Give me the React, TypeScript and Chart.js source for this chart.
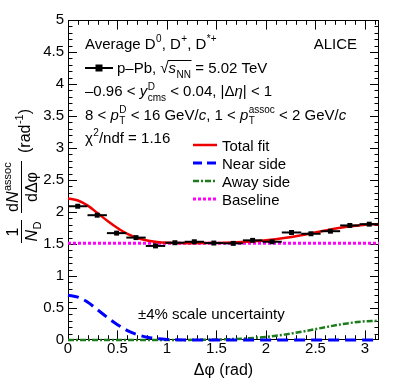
import React, { useEffect, useRef } from "react";
import { Chart, registerables } from "chart.js";

Chart.register(...registerables);

const FONT = '"Liberation Sans", Arial, Helvetica, sans-serif';

// ---- data ----
const binCenters = [0.098, 0.295, 0.491, 0.687, 0.884, 1.08, 1.276, 1.473, 1.669, 1.865, 2.062, 2.258, 2.454, 2.651, 2.847, 3.043];
const correlation = [2.09, 1.95, 1.67, 1.6, 1.47, 1.52, 1.535, 1.515, 1.51, 1.557, 1.535, 1.68, 1.66, 1.7, 1.79, 1.81];
const binHalfWidth = 0.098;

const fitX = [0, 0.1, 0.2, 0.3, 0.4, 0.5, 0.6, 0.7, 0.8, 0.9, 1.0, 1.2, 1.4, 1.6, 1.8, 2.0, 2.2, 2.4, 2.6, 2.8, 3.0, 3.1416];
const totalFit = [2.21, 2.18, 2.1, 1.98, 1.86, 1.75, 1.657, 1.594, 1.554, 1.531, 1.52, 1.513, 1.515, 1.521, 1.535, 1.559, 1.598, 1.65, 1.71, 1.765, 1.802, 1.81];
const nearSide = [0.7, 0.67, 0.59, 0.47, 0.35, 0.24, 0.147, 0.084, 0.044, 0.021, 0.009, 0.001, 0, 0, 0, 0, 0, 0, 0, 0, 0, 0];
const awaySide = [0, 0, 0, 0, 0, 0, 0, 0, 0, 0, 0.0005, 0.0016, 0.0045, 0.011, 0.025, 0.049, 0.088, 0.14, 0.2, 0.255, 0.292, 0.3];
const baselineX = [0, 3.1416];
const baselineY = [1.51, 1.51];

const xTickValues = [0, 0.5, 1, 1.5, 2, 2.5, 3];
const yTickValues = [0, 0.5, 1, 1.5, 2, 2.5, 3, 3.5, 4, 4.5, 5];

const RED = "#ee0000";
const BLUE = "#0000ff";
const GREEN = "#1c7c1c";
const MAGENTA = "#ff00ff";

type Seg = { t?: string; sup?: string; sub?: string; it?: boolean; olStart?: boolean; olEnd?: boolean };

function drawRich(ctx: CanvasRenderingContext2D, x: number, y: number, segs: Seg[], size = 15) {
  const small = Math.round(size * 0.68);
  let cx = x;
  let olX = x;
  for (const s of segs) {
    if (s.t) {
      ctx.font = `${s.it ? "italic " : ""}${size}px ${FONT}`;
      ctx.fillText(s.t, cx, y);
      cx += ctx.measureText(s.t).width;
    }
    if (s.sup || s.sub) {
      ctx.font = `${small}px ${FONT}`;
      let w = 0;
      if (s.sup) {
        ctx.fillText(s.sup, cx + 0.5, y - size * 0.42);
        w = Math.max(w, ctx.measureText(s.sup).width + 0.5);
      }
      if (s.sub) {
        ctx.fillText(s.sub, cx + 0.5, y + size * 0.3);
        w = Math.max(w, ctx.measureText(s.sub).width + 0.5);
      }
      cx += w;
    }
    if (s.olStart) olX = cx;
    if (s.olEnd) {
      ctx.save();
      ctx.lineWidth = 1;
      ctx.strokeStyle = "#000";
      ctx.beginPath();
      const oy = Math.round(y - size * 0.86) + 0.5;
      ctx.moveTo(olX - 1, oy);
      ctx.lineTo(cx + 0.5, oy);
      ctx.stroke();
      ctx.restore();
    }
  }
  return cx;
}

function sampleLine(ctx: CanvasRenderingContext2D, x1: number, x2: number, y: number, color: string, width: number, dash: number[]) {
  ctx.save();
  ctx.strokeStyle = color;
  ctx.lineWidth = width;
  ctx.setLineDash(dash);
  ctx.beginPath();
  ctx.moveTo(x1, y);
  ctx.lineTo(x2, y);
  ctx.stroke();
  ctx.restore();
}

function drawYTitle(ctx: CanvasRenderingContext2D) {
  ctx.save();
  ctx.translate(21.5, 243);
  ctx.rotate(-Math.PI / 2);
  ctx.fillStyle = "#000";
  ctx.strokeStyle = "#000";
  ctx.lineWidth = 1;
  ctx.textBaseline = "alphabetic";
  // 1 / N_D
  ctx.font = `16px ${FONT}`;
  ctx.textAlign = "center";
  ctx.fillText("1", 11, -4);
  ctx.beginPath();
  ctx.moveTo(0, 0);
  ctx.lineTo(23, 0);
  ctx.stroke();
  ctx.textAlign = "left";
  drawRich(ctx, 1.5, 15, [{ t: "N", it: true }, { sub: "D" }], 16);
  // dN^assoc / dΔφ
  ctx.beginPath();
  ctx.moveTo(30, 0);
  ctx.lineTo(82, 0);
  ctx.stroke();
  drawRich(ctx, 31, -4, [{ t: "d" }, { t: "N", it: true }, { sup: "assoc" }], 16);
  ctx.font = `16px ${FONT}`;
  const w = ctx.measureText("dΔφ").width;
  ctx.fillText("dΔφ", 56 - w / 2, 15);
  // (rad^-1)
  drawRich(ctx, 90, 8, [{ t: "(rad" }, { sup: "-1" }, { t: ")" }], 16);
  ctx.restore();
}

const frameTicks = {
  id: "frameTicks",
  beforeDatasetsDraw(chart: any) {
    const { ctx, chartArea: a, scales } = chart;
    const xs = scales.x;
    const ys = scales.y;
    const L = Math.round(a.left), R = Math.round(a.right), T = Math.round(a.top), B = Math.round(a.bottom);
    ctx.save();
    ctx.strokeStyle = "#000";
    ctx.lineWidth = 1;
    ctx.strokeRect(L + 0.5, T + 0.5, R - L - 1, B - T - 1);
    ctx.beginPath();
    for (let i = 1; i < 50; i++) {
      const py = Math.round(ys.getPixelForValue(i / 10)) + 0.5;
      const len = i % 5 === 0 ? 9 : 4.5;
      ctx.moveTo(L, py);
      ctx.lineTo(L + len, py);
      ctx.moveTo(R, py);
      ctx.lineTo(R - len, py);
    }
    for (let i = 1; i <= 31; i++) {
      const px = Math.round(xs.getPixelForValue(i / 10)) + 0.5;
      const len = i % 5 === 0 ? 9.6 : 4.8;
      ctx.moveTo(px, B);
      ctx.lineTo(px, B - len);
      ctx.moveTo(px, T);
      ctx.lineTo(px, T + len);
    }
    ctx.stroke();
    ctx.restore();
  },
};

const errorBars = {
  id: "errorBars",
  beforeDatasetDraw(chart: any, args: any) {
    if (args.index !== 0) return;
    const { ctx, scales } = chart;
    ctx.save();
    ctx.strokeStyle = "#000";
    ctx.lineWidth = 2;
    binCenters.forEach((c, i) => {
      const py = scales.y.getPixelForValue(correlation[i]);
      ctx.beginPath();
      ctx.moveTo(scales.x.getPixelForValue(c - binHalfWidth), py);
      ctx.lineTo(scales.x.getPixelForValue(c + binHalfWidth), py);
      ctx.stroke();
    });
    ctx.restore();
  },
};

const annotations = {
  id: "annotations",
  afterDraw(chart: any) {
    const ctx: CanvasRenderingContext2D = chart.ctx;
    ctx.save();
    ctx.fillStyle = "#000";
    ctx.textBaseline = "alphabetic";
    ctx.textAlign = "left";
    drawRich(ctx, 85, 48.5, [{ t: "Average D" }, { sup: "0" }, { t: ", D" }, { sup: "+" }, { t: ", D" }, { sup: "*+" }]);
    ctx.font = `15px ${FONT}`;
    ctx.textAlign = "right";
    ctx.fillText("ALICE", 357, 48.5);
    ctx.textAlign = "left";

    // data marker sample
    sampleLine(ctx, 85, 113, 68, "#000", 2, []);
    ctx.fillRect(95.5, 64.5, 7, 7);
    drawRich(ctx, 117, 73, [{ t: "p–Pb, " }, { t: "√", olStart: true }, { t: "s", it: true }, { sub: "NN", olEnd: true }, { t: " = 5.02 TeV" }]);
    drawRich(ctx, 85, 96, [{ t: "–0.96 < " }, { t: "y", it: true }, { sup: "D", sub: "cms" }, { t: " < 0.04, |Δ" }, { t: "η", it: true }, { t: "| < 1" }]);
    drawRich(ctx, 85, 119.5, [
      { t: "8 < " }, { t: "p", it: true }, { sup: "D", sub: "T" }, { t: " < 16 GeV/" }, { t: "c", it: true },
      { t: ", 1 < " }, { t: "p", it: true }, { sup: "assoc", sub: "T" }, { t: " < 2 GeV/" }, { t: "c", it: true },
    ]);
    drawRich(ctx, 85, 142.5, [{ t: "χ" }, { sup: "2" }, { t: "/ndf = 1.16" }]);

    // legend of curves
    const lx1 = 193, lx2 = 217, tx = 222;
    sampleLine(ctx, lx1, lx2, 145, RED, 2.5, []);
    sampleLine(ctx, lx1, lx2, 163, BLUE, 3, [9, 5]);
    sampleLine(ctx, lx1, lx2, 181, GREEN, 2.5, [6, 2, 2, 2]);
    sampleLine(ctx, lx1, lx2, 199, MAGENTA, 3, [3, 2]);
    ctx.font = `15px ${FONT}`;
    ctx.fillText("Total fit", tx, 150.5);
    ctx.fillText("Near side", tx, 168.5);
    ctx.fillText("Away side", tx, 186.5);
    ctx.fillText("Baseline", tx, 204.5);

    ctx.fillText("±4% scale uncertainty", 138, 318.5);

    // x title
    ctx.font = `16px ${FONT}`;
    ctx.textAlign = "center";
    ctx.fillText("Δφ (rad)", 223.5, 374.5);
    ctx.textAlign = "left";

    drawYTitle(ctx);
    ctx.restore();
  },
};

export default function App() {
  const ref = useRef<HTMLCanvasElement | null>(null);

  useEffect(() => {
    if (!ref.current) return;
    Chart.defaults.font.family = FONT;
    const pts = (xs: number[], ys: number[]) => xs.map((x, i) => ({ x, y: ys[i] }));
    const chart = new Chart(ref.current, {
      type: "scatter",
      data: {
        datasets: [
          {
            label: "data",
            data: pts(binCenters, correlation),
            pointStyle: "rect",
            pointRadius: 3.5,
            pointBackgroundColor: "#000",
            pointBorderWidth: 0,
            showLine: false,
            order: 0,
          } as any,
          {
            type: "line",
            label: "Total fit",
            data: pts(fitX, totalFit),
            borderColor: RED,
            borderWidth: 2.5,
            pointRadius: 0,
            cubicInterpolationMode: "monotone",
            fill: false,
            clip: false,
            order: 1,
          } as any,
          {
            type: "line",
            label: "Near side",
            data: pts(fitX, nearSide),
            borderColor: BLUE,
            borderWidth: 3,
            borderDash: [11, 6],
            pointRadius: 0,
            cubicInterpolationMode: "monotone",
            fill: false,
            clip: false,
            order: 2,
          } as any,
          {
            type: "line",
            label: "Away side",
            data: pts(fitX, awaySide),
            borderColor: GREEN,
            borderWidth: 2.5,
            borderDash: [6, 2, 2, 2],
            pointRadius: 0,
            cubicInterpolationMode: "monotone",
            fill: false,
            clip: false,
            order: 3,
          } as any,
          {
            type: "line",
            label: "Baseline",
            data: pts(baselineX, baselineY),
            borderColor: MAGENTA,
            borderWidth: 3,
            borderDash: [3, 2],
            pointRadius: 0,
            fill: false,
            clip: false,
            order: 4,
          } as any,
        ],
      },
      options: {
        animation: false,
        responsive: false,
        devicePixelRatio: 1,
        events: [],
        layout: { padding: { left: 0, right: 20, top: 20, bottom: 0 } },
        plugins: { legend: { display: false }, tooltip: { enabled: false } },
        scales: {
          x: {
            type: "linear",
            min: 0,
            max: Math.PI,
            grid: { display: false, drawTicks: false },
            border: { display: false },
            ticks: {
              color: "#000",
              font: { size: 15, family: FONT },
              padding: 0,
              autoSkip: false,
              maxRotation: 0,
              callback: (v: any) => String(v),
            },
            afterBuildTicks: (s: any) => {
              s.ticks = xTickValues.map((v) => ({ value: v }));
            },
            afterFit: (s: any) => {
              s.height = 47;
            },
          },
          y: {
            type: "linear",
            min: 0,
            max: 5,
            grid: { display: false, drawTicks: false },
            border: { display: false },
            ticks: {
              color: "#000",
              font: { size: 15, family: FONT },
              padding: 4,
              autoSkip: false,
              callback: (v: any) => String(v),
            },
            afterBuildTicks: (s: any) => {
              s.ticks = yTickValues.map((v) => ({ value: v }));
            },
            afterFit: (s: any) => {
              s.width = 68;
            },
          },
        },
      } as any,
      plugins: [frameTicks, errorBars, annotations],
    });
    return () => chart.destroy();
  }, []);

  return (
    <div style={{ position: "fixed", left: 0, top: 0, width: 399, height: 387, background: "#fff" }}>
      <canvas ref={ref} width={399} height={387} style={{ display: "block", width: 399, height: 387 }} />
    </div>
  );
}
